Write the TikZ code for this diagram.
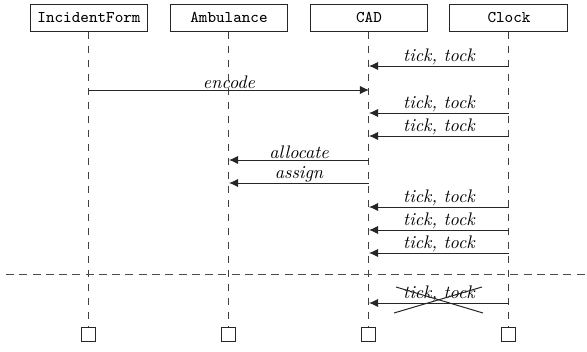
\documentclass[tikz,border=0pt]{standalone}
\usetikzlibrary{arrows.meta}
\begin{document}
\begin{tikzpicture}[x=0.55pt,y=-0.55pt,
  hdr/.style={draw=black!85, line width=0.55pt, minimum width=64.9pt, minimum height=14.85pt, inner sep=0pt, font=\small\ttfamily},
  endbox/.style={draw=black!85, line width=0.55pt, minimum size=7.7pt, inner sep=0pt},
  life/.style={draw=black!75, line width=0.55pt, dash pattern=on 4pt off 3.7pt},
  sepline/.style={draw=black!70, line width=0.55pt, dash pattern=on 4.4pt off 2.9pt},
  msg/.style={draw=black!85, line width=0.55pt, -{Latex[length=5pt,width=4.6pt]}},
  lbl/.style={above, inner sep=0.3pt, font=\itshape}]
\useasboundingbox (0,0) rectangle (587,352);
% headers
\node[hdr] (if) at (89,17.5) {IncidentForm};
\node[hdr] (amb) at (229,17.5) {Ambulance};
\node[hdr] (cad) at (369,17.5) {CAD};
\node[hdr] (clk) at (509,17.5) {Clock};
% end boxes
\node[endbox] (ife) at (89,334) {};
\node[endbox] (ambe) at (229,334) {};
\node[endbox] (cade) at (369,334) {};
\node[endbox] (clke) at (509,334) {};
% lifelines
\draw[life] (if) -- (ife);
\draw[life] (amb) -- (ambe);
\draw[life] (cad) -- (cade);
\draw[life] (clk) -- (clke);
% separator
\coordinate (sl) at (6,274);
\coordinate (sr) at (587,274);
\draw[sepline] (sl) -- (sr);
% message endpoints
\coordinate (k1) at (509,66);  \coordinate (c1) at (369,66);
\coordinate (i2) at (89,90);   \coordinate (c2) at (369,90);
\coordinate (k3) at (509,113); \coordinate (c3) at (369,113);
\coordinate (k4) at (509,136); \coordinate (c4) at (369,136);
\coordinate (c5) at (369,160); \coordinate (a5) at (229,160);
\coordinate (c6) at (369,183); \coordinate (a6) at (229,183);
\coordinate (k7) at (509,207); \coordinate (c7) at (369,207);
\coordinate (k8) at (509,230); \coordinate (c8) at (369,230);
\coordinate (k9) at (509,253); \coordinate (c9) at (369,253);
\coordinate (k10) at (509,303); \coordinate (c10) at (369,303);
% messages
\draw[msg] (k1) -- node[lbl] {tick, tock} (c1);
\draw[msg] (i2) -- node[lbl] {encode} (c2);
\draw[msg] (k3) -- node[lbl] {tick, tock} (c3);
\draw[msg] (k4) -- node[lbl] {tick, tock} (c4);
\draw[msg] (c5) -- node[lbl] {allocate} (a5);
\draw[msg] (c6) -- node[lbl] {assign} (a6);
\draw[msg] (k7) -- node[lbl] {tick, tock} (c7);
\draw[msg] (k8) -- node[lbl] {tick, tock} (c8);
\draw[msg] (k9) -- node[lbl] {tick, tock} (c9);
\draw[msg] (k10) -- node[lbl] {tick, tock} (c10);
% cross
\coordinate (x1) at (394,313); \coordinate (x2) at (482,287);
\coordinate (x3) at (396,287); \coordinate (x4) at (483,313);
\draw[draw=black!85, line width=0.55pt] (x1) -- (x2);
\draw[draw=black!85, line width=0.55pt] (x3) -- (x4);
\end{tikzpicture}
\end{document}
